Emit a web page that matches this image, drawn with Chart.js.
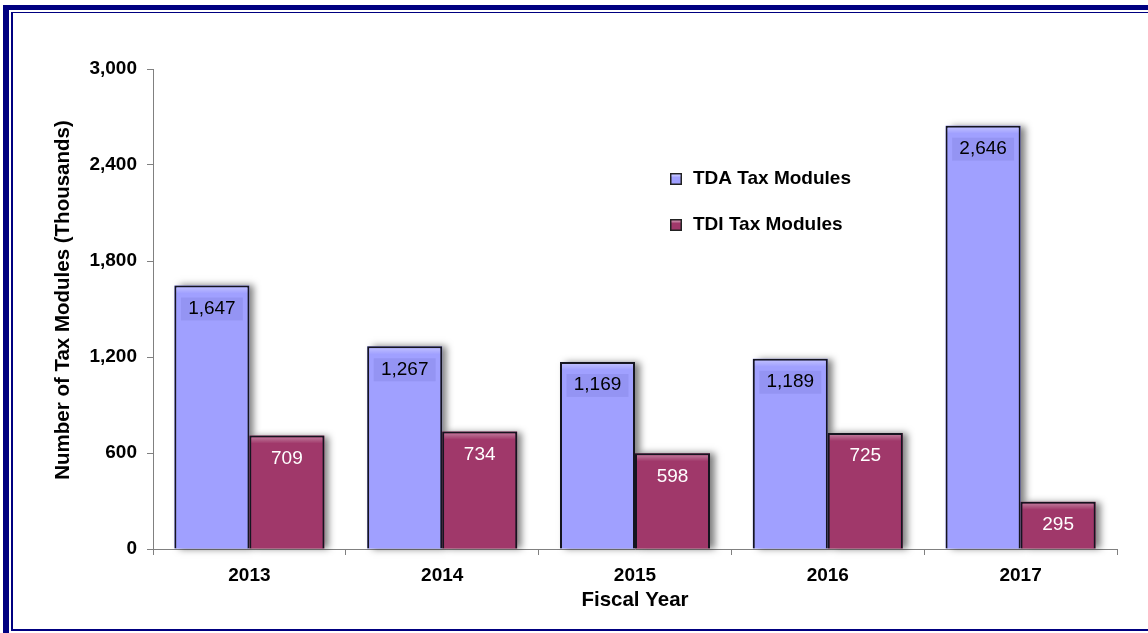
<!DOCTYPE html>
<html>
<head>
<meta charset="utf-8">
<script src="https://cdn.jsdelivr.net/npm/chart.js"></script>
<style>
  html, body { margin: 0; padding: 0; background: #fff; overflow: hidden; }
  #wrap { position: absolute; left: 0; top: 0; width: 1148px; height: 633px; }
  .frame { position: absolute; pointer-events: none; }
  #outer { left: 3px; top: 5px; width: 1200px; height: 700px; border-left: 6px solid #000080; border-top: 5px solid #000080; }
  #inner { left: 11px; top: 12px; width: 1200px; height: 616px; border-left: 2px solid #000080; border-top: 1px solid #000080; border-bottom: 2px solid #000080; }
</style>
</head>
<body>
<div id="wrap"><canvas id="chart"></canvas></div>
<div class="frame" id="outer"></div>
<div class="frame" id="inner"></div>
<script>
(function () {
  "use strict";

  var years = ['2013', '2014', '2015', '2016', '2017'];
  var tdaValues = [1647, 1267, 1169, 1189, 2646];
  var tdiValues = [709, 734, 598, 725, 295];
  var yTicks = [0, 600, 1200, 1800, 2400, 3000];
  var yTitle = 'Number of Tax Modules (Thousands)';

  var fontFam = '"Liberation Sans", Arial, Helvetica, sans-serif';

  // grey drop shadow behind each bar, drawn before the bars
  var barShadow = {
    id: 'barShadow',
    beforeDatasetsDraw: function (chart) {
      var ctx = chart.ctx;
      chart.data.datasets.forEach(function (ds, i) {
        chart.getDatasetMeta(i).data.forEach(function (bar) {
          var p = bar.getProps(['x', 'y', 'base', 'width'], true);
          ctx.save();
          ctx.shadowColor = 'rgba(0,0,0,0.5)';
          ctx.shadowBlur = 7;
          ctx.shadowOffsetX = 5;
          ctx.shadowOffsetY = 0;
          ctx.fillStyle = ds.backgroundColor;
          ctx.fillRect(p.x - p.width / 2, p.y, p.width, p.base - p.y);
          ctx.restore();
        });
      });
    }
  };

  // value boxes near the top of the bars
  var valueLabels = {
    id: 'valueLabels',
    afterDatasetsDraw: function (chart) {
      var ctx = chart.ctx;
      chart.data.datasets.forEach(function (ds, i) {
        chart.getDatasetMeta(i).data.forEach(function (bar, j) {
          var p = bar.getProps(['x', 'y', 'width'], true);
          ctx.save();
          // soft bevel under the top edge
          var g = ctx.createLinearGradient(0, p.y + 2, 0, p.y + 8);
          g.addColorStop(0, 'rgba(255,255,255,0.3)');
          g.addColorStop(1, 'rgba(255,255,255,0)');
          ctx.fillStyle = g;
          ctx.fillRect(p.x - p.width / 2 + 2, p.y + 2, p.width - 4, 6);
          if (i === 0) {
            ctx.fillStyle = 'rgba(0,0,90,0.07)';
            ctx.fillRect(p.x - 31, p.y + 12, 62, 23);
          }
          ctx.fillStyle = i === 0 ? '#000' : '#fff';
          ctx.font = '19px ' + fontFam;
          ctx.textAlign = 'center';
          ctx.textBaseline = 'middle';
          ctx.fillText(ds.data[j].toLocaleString('en-US'), p.x, p.y + 23);
          ctx.restore();
        });
      });
    }
  };

  // legend inside the plot + y axis title
  var extras = {
    id: 'extras',
    afterDraw: function (chart) {
      var ctx = chart.ctx;
      var x = 670, ys = [179, 225];
      chart.data.datasets.forEach(function (ds, i) {
        var y = ys[i];
        ctx.save();
        ctx.fillStyle = '#222';
        ctx.fillRect(x, y - 6, 12, 12);
        ctx.fillStyle = ds.backgroundColor;
        ctx.fillRect(x + 1.5, y - 4.5, 9, 9);
        ctx.fillStyle = 'rgba(255,255,255,0.35)';
        ctx.fillRect(x + 1.5, y - 4.5, 9, 2);
        ctx.fillStyle = '#000';
        ctx.font = 'bold 19px ' + fontFam;
        ctx.textAlign = 'left';
        ctx.textBaseline = 'middle';
        ctx.fillText(ds.label, 693, y);
        ctx.restore();
      });
      ctx.save();
      ctx.translate(63, 300);
      ctx.rotate(-Math.PI / 2);
      ctx.fillStyle = '#000';
      ctx.font = 'bold 20.5px ' + fontFam;
      ctx.textAlign = 'center';
      ctx.textBaseline = 'middle';
      ctx.fillText(yTitle, 0, 0);
      ctx.restore();
    }
  };

  var ctx = document.getElementById('chart').getContext('2d');
  new Chart(ctx, {
    type: 'bar',
    data: {
      labels: years,
      datasets: [{
        label: 'TDA Tax Modules',
        data: tdaValues,
        backgroundColor: '#a0a0ff',
        borderColor: '#151520',
        borderWidth: 2
      }, {
        label: 'TDI Tax Modules',
        data: tdiValues,
        backgroundColor: '#a0386a',
        borderColor: '#151520',
        borderWidth: 2
      }]
    },
    options: {
      responsive: true,
      maintainAspectRatio: false,
      animation: false,
      events: [],
      layout: { padding: { top: 69, right: 31, bottom: 0, left: 0 } },
      datasets: { bar: { categoryPercentage: 0.778, barPercentage: 1 } },
      plugins: {
        legend: { display: false },
        tooltip: { enabled: false }
      },
      scales: {
        x: {
          grid: { drawOnChartArea: false, drawTicks: true, tickLength: 6, color: '#808080' },
          border: { display: true, color: '#808080', width: 1 },
          ticks: { color: '#000', padding: 9, font: { family: fontFam, size: 19, weight: 'bold' } },
          title: { display: true, text: 'Fiscal Year', color: '#000', padding: { top: 0, bottom: 20 }, font: { family: fontFam, size: 20.5, weight: 'bold' } },
          afterFit: function (s) { s.height = 84; }
        },
        y: {
          min: 0,
          max: 3000,
          afterBuildTicks: function (s) { s.ticks = yTicks.map(function (v) { return { value: v }; }); },
          grid: { drawOnChartArea: false, drawTicks: true, tickLength: 6, color: '#808080' },
          border: { display: true, color: '#808080', width: 1 },
          ticks: {
            color: '#000', padding: 10,
            font: { family: fontFam, size: 19, weight: 'bold' },
            callback: function (v) { return v.toLocaleString('en-US'); }
          },
          afterFit: function (s) { s.width = 153; }
        }
      }
    },
    plugins: [barShadow, valueLabels, extras]
  });
})();
</script>
</body>
</html>
